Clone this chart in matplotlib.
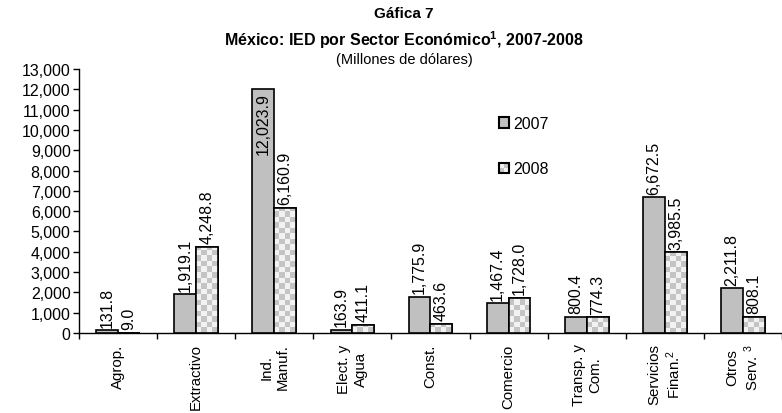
import numpy as np
import matplotlib
matplotlib.use("Agg")
import matplotlib.pyplot as plt
from matplotlib.patches import Rectangle
from matplotlib.legend_handler import HandlerBase
from matplotlib.colors import ListedColormap
from matplotlib.ticker import FuncFormatter, MultipleLocator

categories = ["Agrop.", "Extractivo", "Ind.\nManuf.", "Elect. y\nAgua", "Const.",
              "Comercio", "Transp. y\nCom.", "Servicios\nFinan.$^2$", "Otros\nServ. $^3$"]
values_2007 = [131.8, 1919.1, 12023.9, 163.9, 1775.9, 1467.4, 800.4, 6672.5, 2211.8]
values_2008 = [9.0, 4248.8, 6160.9, 411.1, 463.6, 1728.0, 774.3, 3985.5, 808.1]
series_labels = ["2007", "2008"]

W, H = 782, 414
plt.rcParams['font.family'] = ['Liberation Sans', 'DejaVu Sans']
plt.rcParams['mathtext.default'] = 'regular'
fig = plt.figure(figsize=(W / 100, H / 100), dpi=100)
ax = fig.add_axes([79 / W, 80 / H, 703 / W, 264 / H])

GRAY = '#c0c0c0'
LIGHT = '#f2f2f2'
CHECK = '#c4c4c4'
bw = 0.28
x = np.arange(len(categories))
ymax = 13000
ax.set_xlim(-0.5, len(categories) - 0.5)
ax.set_ylim(0, ymax)

b1 = ax.bar(x - bw / 2, values_2007, bw, color=GRAY, edgecolor='black', linewidth=1.2, zorder=3)
b2 = ax.bar(x + bw / 2, values_2008, bw, color=LIGHT, edgecolor='black', linewidth=1.2, zorder=3)

# checkerboard fill for 2008 bars
px_x = 703 / (len(categories))
px_y = 264 / ymax
cell = 5.5
cmap = ListedColormap([LIGHT, CHECK])
for rect in b2:
    x0, w, h = rect.get_x(), rect.get_width(), rect.get_height()
    ncol = max(1, int(round(w * px_x / cell)))
    cy = cell / px_y
    nrow = max(1, int(np.ceil(h / cy)))
    arr = (np.add.outer(np.arange(nrow), np.arange(ncol)) % 2).astype(float)
    im = ax.imshow(arr, cmap=cmap, vmin=0, vmax=1, origin='lower', aspect='auto',
                   interpolation='nearest', extent=[x0, x0 + w, 0, nrow * cy], zorder=3.5)
    im.set_clip_path(rect)
    edge = Rectangle((x0, 0), w, h, facecolor='none', edgecolor='black', linewidth=1.2, zorder=4)
    ax.add_patch(edge)
ax.set_xlim(-0.5, len(categories) - 0.5)
ax.set_ylim(0, ymax)

# data labels
lab_fs = 11.5
for bars, vals in ((b1, values_2007), (b2, values_2008)):
    for rect, v in zip(bars, vals):
        cx = rect.get_x() + rect.get_width() / 2
        txt = f"{v:,.1f}"
        if v > ymax * 0.85:
            ax.annotate(txt, (cx, v), xytext=(0, -2.5), textcoords='offset points',
                        rotation=90, ha='center', va='top', fontsize=lab_fs, zorder=5)
        else:
            ax.annotate(txt, (cx, v), xytext=(0, 2.5), textcoords='offset points',
                        rotation=90, ha='center', va='bottom', fontsize=lab_fs, zorder=5)

# axes styling
for s in ('top', 'right'):
    ax.spines[s].set_visible(False)
ax.spines['left'].set_linewidth(1.0)
ax.spines['bottom'].set_linewidth(1.0)
ax.yaxis.set_major_locator(MultipleLocator(1000))
ax.yaxis.set_major_formatter(FuncFormatter(lambda v, p: f"{int(v):,}"))
ax.tick_params(axis='y', direction='out', length=4, width=1, labelsize=11.5, pad=2)
ax.set_xticks(x)
ax.set_xticklabels(categories, rotation=90, ha='center', va='top', multialignment='center', fontsize=10.8)
ax.set_xticks(np.arange(len(categories) + 1) - 0.5, minor=True)
ax.tick_params(axis='x', which='major', length=0, pad=7.5)
ax.tick_params(axis='x', which='minor', direction='out', length=4, width=1)

# legend
class CheckerHandler(HandlerBase):
    def create_artists(self, legend, orig_handle, xdescent, ydescent, width, height, fontsize, trans):
        x0, y0 = -xdescent, -ydescent
        bg = Rectangle((x0, y0), width, height, facecolor=LIGHT, edgecolor='none', transform=trans)
        q = Rectangle((x0, y0), width / 2, height / 2, facecolor=CHECK, edgecolor='none', transform=trans)
        q2 = Rectangle((x0 + width / 2, y0 + height / 2), width / 2, height / 2, facecolor=CHECK,
                       edgecolor='none', transform=trans)
        br = Rectangle((x0, y0), width, height, facecolor='none', edgecolor='black', linewidth=1.5, transform=trans)
        return [bg, q, q2, br]

h1 = Rectangle((0, 0), 1, 1, facecolor=GRAY, edgecolor='black', linewidth=1.5)
h2 = Rectangle((0, 0), 1, 1, facecolor=LIGHT, edgecolor='black', linewidth=1.5)
ax.legend([h1, h2], series_labels, handler_map={h2: CheckerHandler()},
          loc='upper left', bbox_to_anchor=(499 / W, 1 - 117 / H), bbox_transform=fig.transFigure,
          frameon=False, fontsize=11.5, labelspacing=1.9, handlelength=0.62, handleheight=0.62,
          handletextpad=0.3, borderpad=0, borderaxespad=0)

# titles
title_font = ['Liberation Sans Narrow', 'Liberation Sans', 'DejaVu Sans']
fig.text(404 / W, 1 - 14 / H, "Gáfica 7", ha='center', va='center', fontsize=11,
         fontweight='bold', family=title_font)
fig.text(404 / W, 1 - 40 / H, "México: IED por Sector Económico$^1$, 2007-2008", ha='center', va='center',
         fontsize=11.5, fontweight='bold', family=title_font)
fig.text(404 / W, 1 - 60 / H, "(Millones de dólares)", ha='center', va='center', fontsize=10.5,
         family=['Liberation Sans', 'DejaVu Sans'])

fig.savefig("out.png", dpi=100)
